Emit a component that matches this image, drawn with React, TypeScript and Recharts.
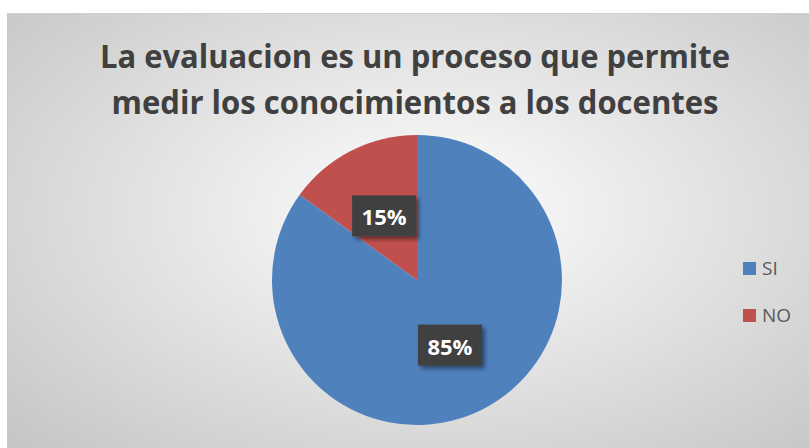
import { Legend, Pie, PieChart, Cell } from "recharts";

const categories = ["SI", "NO"];
const values = [85, 15];
const colors = ["#4f81bd", "#c0504d"];
const titleLines = [
  "La evaluacion es un proceso que permite",
  "medir los conocimientos a los docentes",
];

const data = categories.map((name, i) => ({ name, value: values[i] }));

const RADIAN = Math.PI / 180;

function PctLabel(props: any) {
  const { cx, cy, midAngle, outerRadius, percent } = props;
  const r = outerRadius * 0.5;
  const x = cx + r * Math.cos(-midAngle * RADIAN);
  const y = cy + r * Math.sin(-midAngle * RADIAN);
  return (
    <g>
      <rect x={x - 32} y={y - 20} width={64} height={41} fill="#404040" filter="url(#lblShadow)" />
      <text
        x={x}
        y={y + 1}
        textAnchor="middle"
        dominantBaseline="central"
        fill="#ffffff"
        fontFamily="'Open Sans', sans-serif"
        fontWeight={700}
        fontSize={22}
      >
        {Math.round(percent * 100)}%
      </text>
    </g>
  );
}

function LegendBox(props: any) {
  // keep the legend in data order (SI first)
  const items = [...(props.payload || [])].sort(
    (a: any, b: any) => categories.indexOf(a.value) - categories.indexOf(b.value)
  );
  return (
    <div>
      {items.map((it: any, i: number) => (
        <div
          key={it.value}
          style={{ display: "flex", alignItems: "center", height: 24, marginBottom: i === 0 ? 23 : 0 }}
        >
          <div style={{ width: 13, height: 13, background: it.color, marginRight: 6 }} />
          <span style={{ fontFamily: "'Open Sans', sans-serif", fontSize: 19, color: "#595959" }}>{it.value}</span>
        </div>
      ))}
    </div>
  );
}

export default function App() {
  return (
    <div style={{ position: "fixed", left: 0, top: 0, width: 809, height: 448, background: "#ffffff", overflow: "hidden" }}>
      <div
        style={{
          position: "absolute",
          left: 7,
          top: 13,
          width: 810,
          height: 440,
          borderTop: "1px solid #d0d0d0",
          borderLeft: "1px solid #c8c8c8",
          background: "radial-gradient(ellipse farthest-corner at 52% 45%, #ffffff 0%, #f4f4f4 18%, #c4c4c4 100%)",
        }}
      />
      <svg style={{ position: "absolute", left: 0, top: 0 }} width={809} height={448}>
        {titleLines.map((t, i) => (
          <text
            key={t}
            x={415}
            y={68 + i * 46}
            textAnchor="middle"
            fill="#404040"
            fontFamily="'Open Sans', sans-serif"
            fontWeight={700}
            fontSize={32}
            textLength={i === 0 ? 630 : 607}
            lengthAdjust="spacingAndGlyphs"
          >
            {t}
          </text>
        ))}
      </svg>
      <div style={{ position: "absolute", left: 0, top: 0 }}>
        <PieChart width={809} height={448} margin={{ top: 0, right: 0, bottom: 0, left: 0 }}>
          <defs>
            <filter id="lblShadow" x="-20%" y="-20%" width="150%" height="160%">
              <feDropShadow dx={3} dy={3} stdDeviation={2} floodColor="#000" floodOpacity={0.45} />
            </filter>
          </defs>
          <Pie
            data={data}
            dataKey="value"
            nameKey="name"
            cx={417}
            cy={280}
            outerRadius={145}
            startAngle={90}
            endAngle={-270}
            stroke="none"
            label={PctLabel}
            labelLine={false}
            isAnimationActive={false}
          >
            {data.map((d, i) => (
              <Cell key={d.name} fill={colors[i]} />
            ))}
          </Pie>
          <Legend
            content={LegendBox}
            layout="vertical"
            align="right"
            verticalAlign="top"
            wrapperStyle={{ position: "absolute", left: 743, top: 256, width: 60 }}
          />
        </PieChart>
      </div>
    </div>
  );
}
